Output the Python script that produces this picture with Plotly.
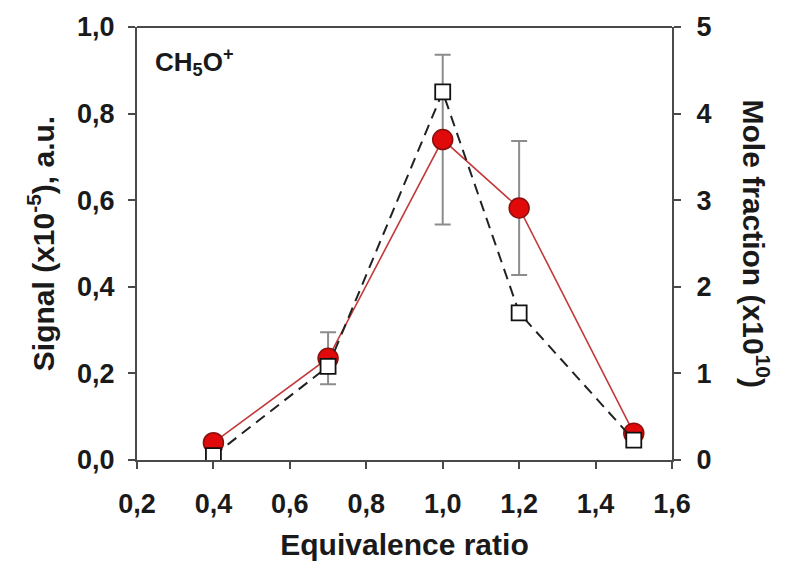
import plotly.graph_objects as go

# Data
phi = [0.4, 0.7, 1.0, 1.2, 1.5]
signal = [0.04, 0.235, 0.74, 0.582, 0.062]          # left axis, Signal (x10^-5)
signal_err = [0.0, 0.06, 0.196, 0.155, 0.0]
mole_fraction = [0.05, 1.08, 4.25, 1.70, 0.23]       # right axis, Mole fraction (x10^10)

FONT = "Liberation Sans, Arial, sans-serif"
AX = "#4a4a4a"

fig = go.Figure()
fig.add_trace(go.Scatter(
    x=phi, y=signal, mode="lines+markers",
    line=dict(color="#c23a3a", width=1.6),
    marker=dict(symbol="circle", size=20, color="#e00a0a",
                line=dict(color="#8a1010", width=1.5)),
    error_y=dict(type="data", array=signal_err, visible=True,
                 color="#8c8c8c", thickness=2, width=8),
    yaxis="y", showlegend=False))
fig.add_trace(go.Scatter(
    x=phi, y=mole_fraction, mode="lines+markers",
    line=dict(color="#222222", width=2, dash="11px,7px"),
    marker=dict(symbol="square", size=15, color="white",
                line=dict(color="#111111", width=1.8)),
    yaxis="y2", showlegend=False))

tickfont = dict(family=FONT, size=27, color="#1a1a1a", weight="bold")
titlefont = dict(family=FONT, size=30, color="#1a1a1a", weight="bold")

fig.update_layout(
    width=790, height=572,
    margin=dict(l=137, r=118, t=21, b=112),
    paper_bgcolor="white", plot_bgcolor="white",
    separators=", ",
    xaxis=dict(range=[0.2, 1.6], tickvals=[0.2, 0.4, 0.6, 0.8, 1.0, 1.2, 1.4, 1.6],
               tickformat=".1f", showgrid=False, zeroline=False,
               showline=True, linecolor=AX, linewidth=2, mirror=False,
               ticks="outside", ticklen=7, tickwidth=2, tickcolor=AX,
               tickfont=tickfont, ticklabelstandoff=12,
               title=dict(text="Equivalence ratio", font=titlefont, standoff=16)),
    yaxis=dict(range=[0, 1.0], tickvals=[0, 0.2, 0.4, 0.6, 0.8, 1.0],
               tickformat=".1f", showgrid=False, zeroline=False,
               showline=True, linecolor=AX, linewidth=2,
               ticks="outside", ticklen=7, tickwidth=2, tickcolor=AX,
               tickfont=tickfont, ticklabelstandoff=8,
               title=dict(text="Signal (x10<sup>-5</sup>), a.u.", font=titlefont, standoff=14)),
    yaxis2=dict(range=[0, 5], tickvals=[0, 1, 2, 3, 4, 5], overlaying="y", side="right",
                showgrid=False, zeroline=False,
                showline=True, linecolor=AX, linewidth=2,
                ticks="outside", ticklen=7, tickwidth=2, tickcolor=AX,
                tickfont=tickfont, ticklabelstandoff=10),
    shapes=[dict(type="line", xref="paper", yref="paper", x0=0, x1=1, y0=1, y1=1,
                 line=dict(color=AX, width=2))],
    annotations=[
        dict(text="CH<sub>5</sub>O<sup>+</sup>", xref="paper", yref="paper",
             x=0.03, y=0.965, xanchor="left", yanchor="top", showarrow=False,
             font=dict(family=FONT, size=26, color="#1a1a1a", weight="bold")),
        dict(text="Mole fraction (x10<sup>10</sup>)", xref="paper", yref="paper",
             x=1.157, y=0.5, xanchor="center", yanchor="middle", textangle=90,
             showarrow=False, font=titlefont),
    ],
)

fig.write_html("out.html")
